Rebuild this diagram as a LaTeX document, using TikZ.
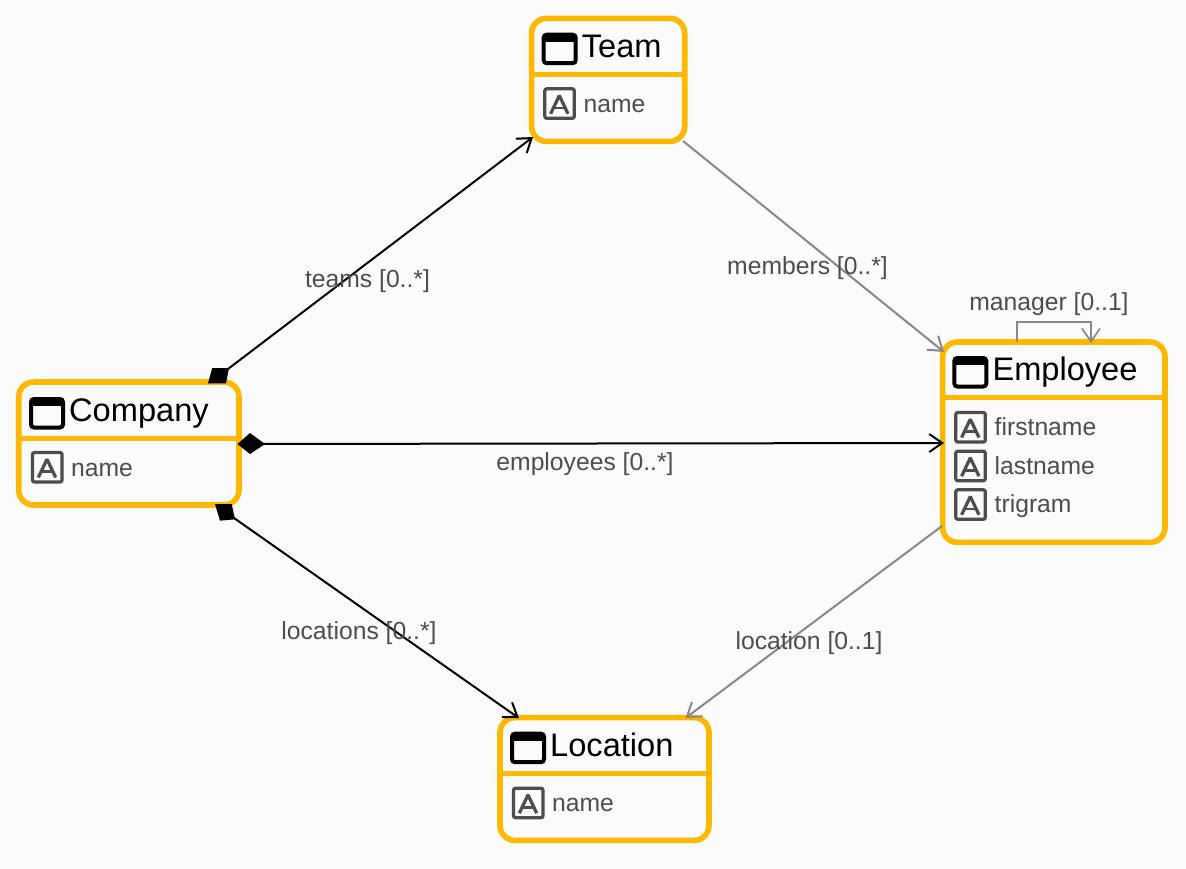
\documentclass[tikz,border=0pt]{standalone}
\usepackage{fontspec}
\setmainfont{Liberation Sans}
\usetikzlibrary{calc,arrows.meta}
\definecolor{bgc}{HTML}{FBFBFB}
\definecolor{gold}{HTML}{FFB800}
\definecolor{txtgray}{HTML}{4D4D4D}
\definecolor{linegray}{HTML}{888888}
\tikzset{
  x=1pt,y=-1pt,
  classbox/.style={draw=gold,fill=bgc,line width=5.6pt,rounded corners=15pt,inner sep=0pt,outer sep=0pt,anchor=center},
  divider/.style={draw=gold,line width=5.6pt},
  title/.style={font=\fontsize{32.6}{36}\selectfont,text=black,anchor=base west,inner sep=0pt},
  attr/.style={font=\fontsize{24.7}{28}\selectfont,text=txtgray,anchor=base west,inner sep=0pt},
  lbl/.style={font=\fontsize{24.7}{28}\selectfont,text=txtgray,anchor=center,inner sep=0pt},
  tipbarb/.style={-{Straight Barb[length=13pt,width=18pt]}},
  strong/.style={draw=black,line width=2pt,tipbarb},
  weak/.style={draw=linegray,line width=2pt,tipbarb},
}
\newcommand{\clsicon}[2]{%
  \draw[line width=4pt,rounded corners=3pt] (#1+2,#2+2) rectangle (#1+34,#2+30.5);
  \fill (#1+2,#2+2) rectangle (#1+34,#2+9);
}
\newcommand{\attricon}[2]{%
  \draw[draw=txtgray,line width=3.2pt,rounded corners=2pt] (#1+1.5,#2+1.5) rectangle (#1+31,#2+31);
  \draw[draw=txtgray,line width=3.2pt,line join=bevel] (#1+7.3,#2+26.5) -- (#1+16,#2+8.2) -- (#1+24.7,#2+26.5);
  \draw[draw=txtgray,line width=2.8pt] (#1+10,#2+20.7) -- (#1+22,#2+20.7);
}
\begin{document}
\begin{tikzpicture}
\useasboundingbox (0,0) rectangle (1186,868);
\fill[bgc] (0,0) rectangle (1186,868);

% class boxes
\node[classbox,minimum width=220.3pt,minimum height=123pt] (company) at (128.85,443.5) {};
\node[classbox,minimum width=153.1pt,minimum height=123.1pt] (team) at (608.15,79.85) {};
\node[classbox,minimum width=222.4pt,minimum height=200.4pt] (employee) at (1053.8,442.2) {};
\node[classbox,minimum width=209pt,minimum height=122.8pt] (location) at (604.5,779) {};

% dividers
\draw[divider] (company.west |- 0,438.3) -- (company.east |- 0,438.3);
\draw[divider] (team.west |- 0,74.3) -- (team.east |- 0,74.3);
\draw[divider] (employee.west |- 0,397.5) -- (employee.east |- 0,397.5);
\draw[divider] (location.west |- 0,773.5) -- (location.east |- 0,773.5);

% class icons and titles
\clsicon{29}{397}
\node[title] (tCompany) at (69,421.5) {Company};
\clsicon{541.7}{32.7}
\node[title] (tTeam) at (581.7,57.5) {Team};
\clsicon{952.3}{356}
\node[title] (tEmployee) at (992.3,380.5) {Employee};
\clsicon{510}{731.7}
\node[title] (tLocation) at (550,756.5) {Location};

% attributes
\attricon{31}{451}
\node[attr] (aCompanyName) at (71,476) {name};
\attricon{543.3}{87.3}
\node[attr] (aTeamName) at (583.5,112) {name};
\attricon{954.3}{411}
\node[attr] (aFirst) at (994.5,435) {firstname};
\attricon{954.3}{449.7}
\node[attr] (aLast) at (994.5,474) {lastname};
\attricon{954.3}{488.3}
\node[attr] (aTri) at (994.5,512) {trigram};
\attricon{512}{786.7}
\node[attr] (aLocName) at (552,811) {name};

% connectors
\draw[strong] ($(company.north east)+(-11,-13)$) -- ($(team.south west)+(1.4,-4.4)$);
\draw[strong] ($(company.east)+(-1,0.5)$) -- ($(employee.west)+(1.4,0.8)$);
\draw[strong] ($(company.south east)+(-5,13)$) -- ($(location.north west)+(19,0.6)$);
\draw[weak] ($(team.south east)+(-1.7,-0.4)$) -- ($(employee.north west)+(1.4,10)$);
\draw[weak] ($(employee.south west)+(-0.6,-16.4)$) -- ($(location.north east)+(-23.5,0.4)$);
\draw[weak,line width=1.7pt] ($(employee.north west)+(74.4,0)$) |- ($(employee.north west)+(111,-20.3)$) -| ($(employee.north west)+(148.4,1)$);

% composition diamonds
\fill ($(company.north east)+(-31,1.4)$) -- ($(company.north east)+(-26.8,-13.8)$) -- ($(company.north east)+(-10,-14)$) -- ($(company.north east)+(-13,1.4)$) -- cycle;
\fill ($(company.east)+(-1.5,0.5)$) -- ($(company.east)+(11,-10.5)$) -- ($(company.east)+(26,0.5)$) -- ($(company.east)+(11,10.5)$) -- cycle;
\fill ($(company.south east)+(-24,-1)$) -- ($(company.south east)+(-19,15.7)$) -- ($(company.south east)+(-4,14.3)$) -- ($(company.south east)+(-7.3,-1)$) -- cycle;

% labels
\node[lbl] (lTeams) at (367.5,281.5) {teams [0..*]};
\node[lbl] (lMembers) at (807.5,268) {members [0..*]};
\node[lbl] (lManager) at (1049,304.5) {manager [0..1]};
\node[lbl] (lEmployees) at (585,464.5) {employees [0..*]};
\node[lbl] (lLocations) at (359,633.5) {locations [0..*]};
\node[lbl] (lLocation) at (809,643.5) {location [0..1]};
\end{tikzpicture}
\end{document}
